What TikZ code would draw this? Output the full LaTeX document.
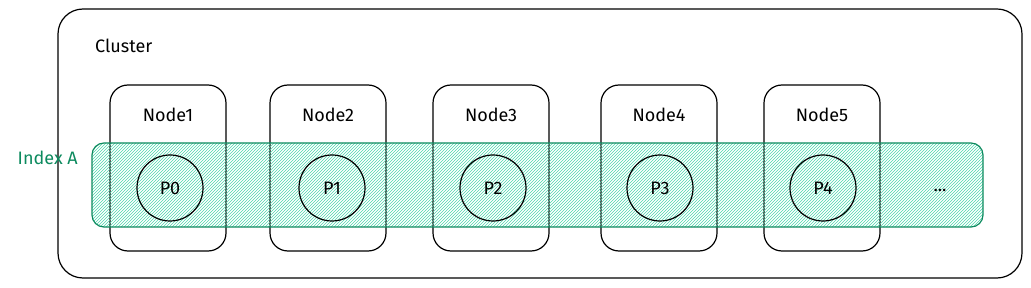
\documentclass[tikz,border=0pt]{standalone}
\usepackage{fontspec}
\setmainfont{Fira Sans}
\usetikzlibrary{patterns}
\definecolor{teal}{HTML}{0C8A5E}
\definecolor{hatch}{HTML}{4CD6AC}
\begin{document}
\begin{tikzpicture}[x=1pt,y=-1pt,
  cluster/.style={draw=black,line width=1.2pt,rounded corners=25pt},
  machine/.style={draw=black,line width=1.2pt,rounded corners=18pt,minimum width=116pt,minimum height=166pt,inner sep=0pt},
  indexband/.style={draw=teal,line width=1.2pt,rounded corners=12pt,pattern=north east lines,pattern color=hatch},
  part/.style={draw=black,line width=1.2pt,circle,minimum size=66pt,inner sep=0pt,font=\fontsize{18}{18}\selectfont},
  lbl/.style={font=\fontsize{18}{18}\selectfont,inner sep=0pt}]
\useasboundingbox (0,0) rectangle (1031,288);
\draw[cluster] (58,9) rectangle (1022,278);
\node[lbl,anchor=west] (clabel) at (95,46) {Cluster};
\foreach \i/\x in {1/168,2/328,3/491,4/659,5/822}{
  \node[machine] (n\i) at (\x,168) {};
  \node[lbl] (nl\i) at (\x,115) {Node\i};
}
\draw[indexband] (92,143) rectangle (983,227);
\node[lbl,text=teal,anchor=east] (ilabel) at (78,158) {Index A};
\foreach \i/\x in {0/170,1/332,2/493,3/660,4/823}{
  \node[part] (p\i) at (\x,188) {P\i};
}
\node[lbl] (dots) at (940,190) {...};
\end{tikzpicture}
\end{document}
